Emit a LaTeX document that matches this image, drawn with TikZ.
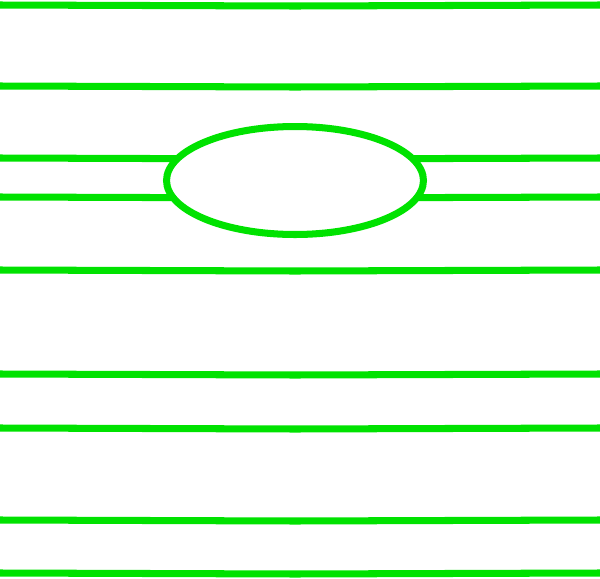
\documentclass[tikz,border=0pt]{standalone}
\usetikzlibrary{shapes.geometric, positioning, calc}
\definecolor{linegreen}{RGB}{0,226,0}
\begin{document}
\begin{tikzpicture}[x=0.02cm, y=-0.02cm,
    wire/.style={draw=linegreen, line width=4pt},
    hole/.style={ellipse, draw=linegreen, line width=4pt, fill=white, minimum width=5.14cm, minimum height=2.16cm, inner sep=0pt}
]
    \useasboundingbox (0,0) rectangle (600,579);
    % horizontal lines, each bent very slightly at the middle
    \foreach \y [count=\i] in {5,86,158,197,270,374,428,520,573} {
        \coordinate (w\i) at (0,\y);
        \coordinate (m\i) at (295,\y+1);
        \coordinate (e\i) at (600,\y);
        \draw[wire] (w\i) -- (m\i) -- (e\i);
    }
    \node[hole] (lens) at (295,180.5) {};
\end{tikzpicture}
\end{document}
